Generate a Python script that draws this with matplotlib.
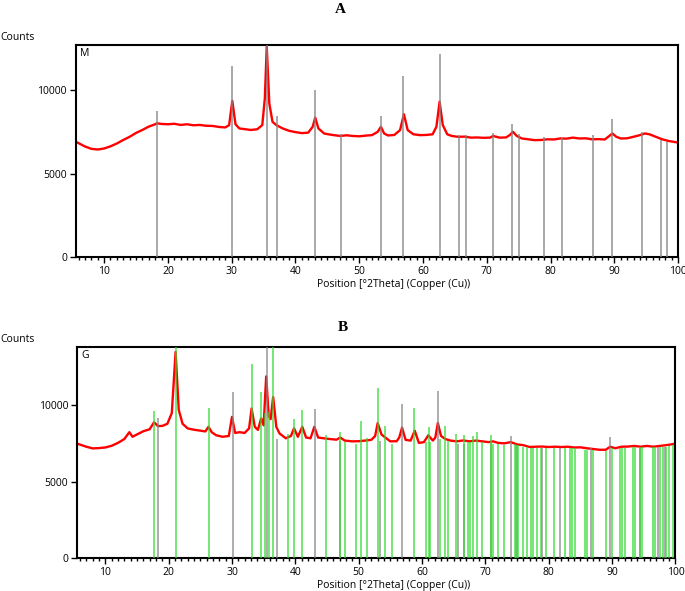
import matplotlib.pyplot as plt
from matplotlib.ticker import MultipleLocator

plt.rcParams['font.family'] = ['Open Sans', 'DejaVu Sans']

# ---- panel A : magnetite (M) ----
a_theta = [5.6, 6, 7, 8, 9, 10, 11, 12, 13, 14, 15, 16, 17, 18, 18.3, 19, 20, 21, 22, 23,
           24, 25, 26, 27, 28, 29, 29.6, 30.1, 30.6, 31.2, 32, 33, 34, 34.8, 35.2, 35.5, 35.9,
           36.4, 37, 38, 39, 40, 41, 42, 42.7, 43.1, 43.6, 44.5, 45, 46, 47, 48, 49, 50, 51,
           52, 52.9, 53.4, 53.9, 54.5, 55.5, 56.4, 57.0, 57.6, 58.5, 59.5, 60.5, 61.5, 62.1,
           62.6, 63.1, 63.8, 64.5, 65.5, 66.5, 67.5, 68.5, 69.5, 70.5, 71, 72, 73, 73.6, 74.1,
           74.7, 75.5, 76.5, 77.5, 78.5, 79.5, 80.5, 81.5, 82.5, 83.5, 84.5, 85.5, 86.5, 87.5,
           88.5, 89.2, 89.7, 90.3, 91, 92, 93, 94, 94.8, 95.5, 96.5, 97.5, 98.5, 99.3, 100]
a_counts = [6900, 6820, 6620, 6480, 6440, 6500, 6630, 6800, 7010, 7200, 7430, 7610, 7810, 7950,
            8010, 7970, 7950, 7980, 7910, 7950, 7890, 7910, 7860, 7850, 7790, 7760, 7900, 9350,
            7950, 7700, 7660, 7610, 7650, 7900, 9500, 12600, 9200, 8100, 7900, 7700, 7560,
            7480, 7420, 7450, 7800, 8350, 7700, 7400, 7360, 7300, 7250, 7290, 7250, 7230, 7270,
            7300, 7500, 7800, 7400, 7280, 7310, 7600, 8550, 7600, 7350, 7300, 7310, 7350, 7800,
            9300, 7900, 7350, 7250, 7200, 7210, 7150, 7160, 7140, 7150, 7250, 7150, 7160, 7300,
            7500, 7250, 7100, 7050, 7000, 7010, 7050, 7040, 7100, 7090, 7150, 7100, 7110, 7050,
            7060, 7040, 7250, 7400, 7200, 7100, 7110, 7200, 7300, 7400, 7350, 7200, 7050, 6950,
            6900, 6850]
m_pos = [18.3, 30.1, 35.5, 37.1, 43.1, 47.1, 53.4, 56.9, 62.6, 65.7, 66.7, 70.9, 74.0, 75.0,
         78.9, 81.8, 86.7, 89.6, 94.4, 97.3, 98.3]
m_int_a = [8740, 11440, 12800, 8460, 10000, 7370, 8440, 10860, 12150, 7300, 7300, 7400, 7960,
           7360, 7200, 7100, 7300, 8250, 7500, 7000, 6900]

# ---- panel B : composite (G) ----
b_theta = [5.6, 6, 7, 8, 9, 10, 11, 12, 13, 13.8, 14.3, 15, 16, 17, 17.7, 18.3, 19, 19.8, 20.5,
           21.1, 21.6, 22.2, 23, 24, 25, 25.8, 26.3, 26.8, 27.5, 28.5, 29.5, 30.0, 30.5, 31.2,
           32, 32.7, 33.1, 33.6, 34.1, 34.6, 35.0, 35.4, 35.8, 36.1, 36.5, 37.0, 37.5, 38.5,
           39.3, 39.8, 40.4, 41.1, 41.7, 42.4, 43.0, 43.6, 44.5, 45.5, 46.5, 47.1, 47.8, 49,
           50, 51, 52, 52.6, 53.0, 53.6, 54.2, 55, 56, 56.4, 56.85, 57.4, 58.2, 58.85, 59.5,
           60.3, 61.0, 61.7, 62.1, 62.5, 63.0, 63.7, 64.5, 65.5, 66.5, 67.5, 68.5, 69.5, 70.5,
           71.2, 72, 73, 74, 75, 76, 77, 78, 79, 80, 81, 82, 83, 84, 85, 86, 87, 88, 89, 89.7,
           90.5, 91.5, 92.5, 93.5, 94.5, 95.5, 96.5, 97.5, 98.5, 99.3, 100]
b_counts = [7500, 7440, 7300, 7190, 7210, 7250, 7360, 7550, 7800, 8250, 7950, 8100, 8310, 8440,
            8900, 8650, 8660, 8800, 9500, 13500, 9700, 8800, 8500, 8410, 8350, 8300, 8600,
            8250, 8050, 7950, 8000, 9250, 8200, 8250, 8200, 8500, 9800, 8600, 8400, 9150, 8700,
            11900, 9300, 9100, 10550, 8600, 8170, 7850, 8000, 8500, 7950, 8600, 7900, 7850,
            8600, 7900, 7850, 7800, 7760, 7900, 7700, 7650, 7660, 7700, 7750, 8000, 8850, 8100,
            7900, 7650, 7660, 7900, 8550, 7750, 7700, 8350, 7550, 7600, 8050, 7700, 7900, 8850,
            8000, 7800, 7700, 7650, 7710, 7650, 7700, 7650, 7600, 7650, 7550, 7520, 7600, 7450,
            7400, 7280, 7300, 7310, 7280, 7300, 7280, 7300, 7250, 7260, 7200, 7150, 7100, 7100,
            7300, 7200, 7300, 7310, 7350, 7300, 7350, 7300, 7350, 7400, 7450, 7500]
m_int_b = [9170, 10870, 14000, 7800, 9740, 7700, 7700, 10090, 10940, 7500, 7500, 7600, 8000,
           7400, 7200, 7200, 7200, 7950, 7200, 7300, 7300]
g_pos = [17.7, 21.1, 26.3, 33.1, 34.6, 35.2, 35.9, 36.5, 38.9, 39.8, 41.1, 44.9, 47.0, 47.9,
         49.65, 50.4, 51.3, 53.0, 54.1, 55.2, 58.8, 60.7, 61.05, 61.2, 62.8, 63.7, 64.1, 65.3,
         66.7, 67.2, 67.5, 68.0, 68.7, 69.5, 70.9, 71.2, 72.0, 72.9, 74.6, 74.9, 75.1, 75.9,
         76.5, 77.25, 77.5, 78.1, 78.8, 79.5, 80.9, 82.5, 83.4, 83.7, 84.1, 85.8, 86.0, 87.0,
         89.1, 90.0, 91.2, 91.5, 92.0, 93.3, 93.6, 94.4, 94.8, 96.5, 96.8, 97.6, 98.0, 98.5,
         99.0, 99.6]
g_int = [9630, 14000, 9820, 12700, 10890, 9500, 9580, 14000, 8120, 9100, 9690, 8060, 8275, 7600,
         7500, 9000, 7880, 11110, 8650, 7500, 9845, 7600, 8560, 7600, 7800, 8650, 7700, 8124,
         8060, 7600, 7600, 8000, 8235, 7600, 8060, 7500, 7500, 7400, 7500, 7400, 7400, 7300,
         7300, 7200, 7200, 7200, 7200, 7200, 7200, 7200, 7200, 7200, 7200, 7100, 7100, 7100,
         7000, 7200, 7200, 7200, 7200, 7250, 7250, 7250, 7250, 7250, 7250, 7300, 7300, 7300,
         7350, 7400]

RED = '#ff0000'
GREY = '#858585'
GREEN = '#2fdc2f'


def style_axes(ax, ylim, tag):
   ax.set_xlim(5.6, 100)
   ax.set_ylim(0, ylim)
   ax.set_yticks([0, 5000, 10000])
   ax.xaxis.set_major_locator(MultipleLocator(10))
   ax.xaxis.set_minor_locator(MultipleLocator(1))
   ax.tick_params(axis='both', which='major', direction='out', length=4.5, width=1,
                  labelsize=7.5, pad=2)
   ax.tick_params(axis='x', which='minor', direction='out', length=2.5, width=1)
   for s in ax.spines.values():
      s.set_linewidth(1.5)
   ax.text(0.006, 0.985, tag, transform=ax.transAxes, ha='left', va='top', fontsize=7.5)
   ax.text(0.528, -0.128, "Position [°2Theta] (Copper (Cu))", transform=ax.transAxes,
           ha='center', va='center', fontsize=7.5)


fig = plt.figure(figsize=(6.85, 5.91), dpi=100)
ax_a = fig.add_axes([0.111, 0.565, 0.879, 0.359])
ax_b = fig.add_axes([0.113, 0.0553, 0.873, 0.357])

# panel A
ax_a.plot(a_theta, a_counts, color=RED, lw=1.7, zorder=2)
ax_a.vlines(m_pos, 0, m_int_a, color=GREY, lw=1.1, alpha=0.9, zorder=3)
style_axes(ax_a, 12700, "M")

# panel B
ax_b.plot(b_theta, b_counts, color=RED, lw=1.7, zorder=2)
ax_b.vlines(m_pos, 0, m_int_b, color=GREY, lw=1.1, alpha=0.85, zorder=3)
ax_b.vlines(g_pos, 0, g_int, color=GREEN, lw=1.1, alpha=0.85, zorder=3)
style_axes(ax_b, 13800, "G")

fig.text(0.0, 0.937, "Counts", ha='left', va='center', fontsize=7.5)
fig.text(0.0, 0.426, "Counts", ha='left', va='center', fontsize=7.5)
fig.text(0.497, 0.984, "A", ha='center', va='center', family='Liberation Serif',
         fontweight='bold', fontsize=11)
fig.text(0.501, 0.446, "B", ha='center', va='center', family='Liberation Serif',
         fontweight='bold', fontsize=11)

fig.savefig("out.png", dpi=100)
plt.close(fig)
